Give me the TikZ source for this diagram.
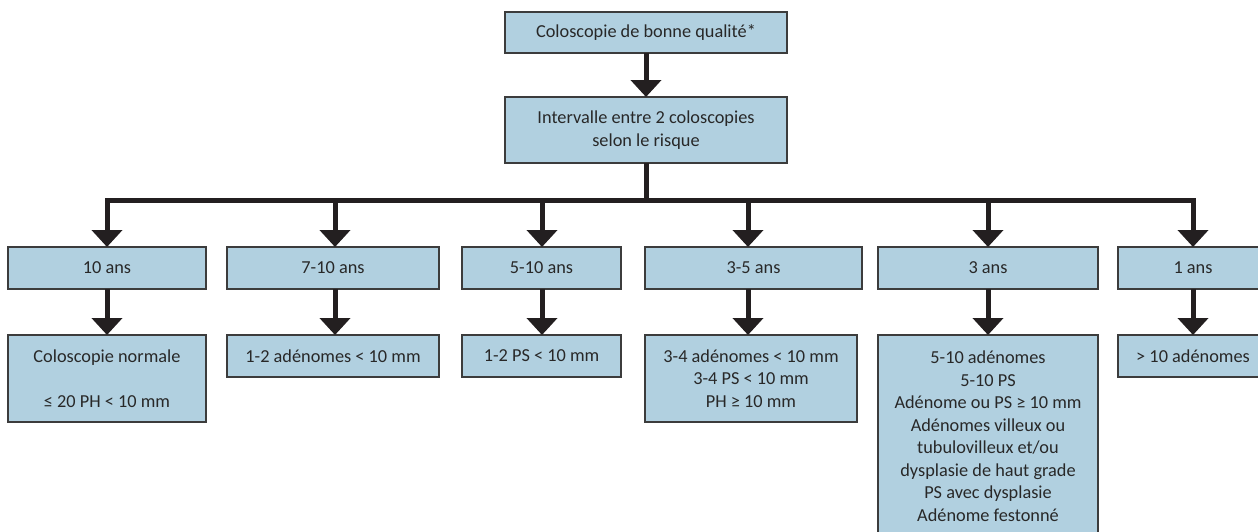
\documentclass[tikz,border=0pt]{standalone}
\usepackage{fontspec}
\setmainfont{Carlito}
\usetikzlibrary{arrows.meta}
\definecolor{boxfill}{RGB}{177,208,224}
\definecolor{boxline}{RGB}{60,60,60}
\definecolor{arrowcol}{RGB}{35,31,32}
\definecolor{txt}{RGB}{40,40,40}
\begin{document}
\begin{tikzpicture}[x=1pt,y=-1pt,
  box/.style={draw=boxline, fill=boxfill, line width=1.2pt, inner sep=0pt, outer sep=0pt,
    align=center, text=txt, font=\fontsize{18.3}{22.5}\selectfont},
  bus/.style={draw=arrowcol, line width=5pt, line cap=rect},
  arr/.style={draw=arrowcol, line width=5pt, -{Triangle[width=30pt,length=17pt]}}]
\useasboundingbox (0,0) rectangle (1258,531);
% top
\node[box, minimum width=282pt, minimum height=41pt] (top) at (646,32.5) {Coloscopie de bonne qualité*};
\node[box, minimum width=282pt, minimum height=66pt] (mid) at (646,130) {Intervalle entre 2 coloscopies\\selon le risque};
% row 1
\node[box, minimum width=198pt, minimum height=42pt] (r1) at (107,268) {10 ans};
\node[box, minimum width=212pt, minimum height=42pt] (r2) at (333,268) {7-10 ans};
\node[box, minimum width=159pt, minimum height=42pt] (r3) at (541.5,268) {5-10 ans};
\node[box, minimum width=217pt, minimum height=42pt] (r4) at (753.5,268) {3-5 ans};
\node[box, minimum width=220pt, minimum height=42pt] (r5) at (988,268) {3 ans};
\node[box, minimum width=150pt, minimum height=42pt] (r6) at (1193,268) {1 ans};
% row 2
\node[box, minimum width=198pt, minimum height=87pt] (s1) at (107,378.5) {Coloscopie normale\\[22.5pt]≤ 20 PH < 10 mm};
\node[box, minimum width=212pt, minimum height=42pt] (s2) at (333,356) {1-2 adénomes < 10 mm};
\node[box, minimum width=159pt, minimum height=42pt] (s3) at (541.5,356) {1-2 PS < 10 mm};
\node[box, minimum width=212pt, minimum height=87pt] (s4) at (751,378.5) {3-4 adénomes < 10 mm\\3-4 PS < 10 mm\\PH ≥ 10 mm};
\node[box, minimum width=220pt, minimum height=202pt] (s5) at (988,436) {5-10 adénomes\\5-10 PS\\Adénome ou PS ≥ 10 mm\\Adénomes villeux ou\\tubulovilleux et/ou\\dysplasie de haut grade\\PS avec dysplasie\\Adénome festonné};
\node[box, minimum width=150pt, minimum height=42pt] (s6) at (1193,356) {> 10 adénomes};
% bus coordinates
\coordinate (h1) at (107,200);
\coordinate (h2) at (335,200);
\coordinate (h3) at (542,200);
\coordinate (h4) at (748,200);
\coordinate (h5) at (988,200);
\coordinate (h6) at (1193,200);
% connectors
\draw[arr] (top.south) -- (mid.north);
\draw[draw=arrowcol, line width=5pt] (mid.south) -- (mid.south |- h1);
\draw[bus] (h1) -- (h6);
\foreach \i in {1,...,6} {
  \draw[arr] (h\i) -- (h\i |- r\i.north);
  \draw[arr] (h\i |- r\i.south) -- (h\i |- s\i.north);
}
\end{tikzpicture}
\end{document}
